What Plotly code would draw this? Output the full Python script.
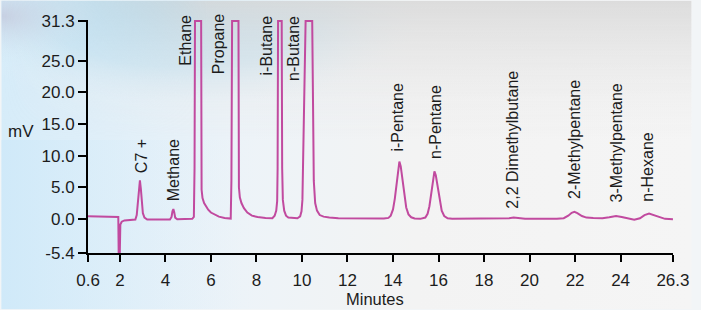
import base64
import plotly.graph_objects as go

# ---- data ----
time_min = [
    0.6, 1.90, 1.93, 1.95, 1.99, 2.02, 2.08, 2.2, 2.4, 2.6,
    2.68, 2.74, 2.79, 2.84, 2.88, 2.92, 2.96, 3.01, 3.08, 3.2,
    4.2, 4.27, 4.31, 4.35, 4.39, 4.43, 4.52,
    5.18, 5.25, 5.28, 5.30, 5.57, 5.59, 5.63, 5.70, 5.80, 5.88, 6.0, 6.17, 6.35, 6.6, 6.82,
    6.87, 6.90, 6.93, 7.21, 7.23, 7.27, 7.34, 7.45, 7.6, 7.8, 8.05, 8.4, 8.7,
    8.80, 8.87, 8.91, 8.93, 8.95, 9.11, 9.13, 9.16, 9.22, 9.30, 9.40, 9.6,
    9.80, 9.92, 9.98, 10.02, 10.06, 10.12, 10.16, 10.45, 10.48, 10.52, 10.58, 10.66, 10.78, 10.95, 11.2, 11.6,
    13.6, 13.8, 13.9, 14.0, 14.08, 14.15, 14.22, 14.28, 14.34, 14.42, 14.5, 14.58, 14.68, 14.8, 14.95, 15.2,
    15.42, 15.52, 15.6, 15.68, 15.75, 15.82, 15.88, 15.96, 16.05, 16.14, 16.25, 16.4, 16.6,
    18.8, 19.1, 19.3, 19.5, 19.8,
    21.2, 21.5, 21.7, 21.85, 21.97, 22.1, 22.3, 22.5, 22.8, 23.2, 23.5, 23.8, 24.05, 24.35, 24.6,
    24.85, 25.05, 25.25, 25.45, 25.7, 25.95, 26.3,
]
signal_mv = [
    0.4, 0.4, 0.3, -6.6, -6.6, -0.9, -0.45, -0.25, -0.15, -0.15,
    -0.1, 0.6, 2.3, 4.9, 6.1, 4.8, 2.4, 0.9, 0.2, -0.1,
    -0.1, 0.3, 1.2, 1.55, 1.0, 0.2, -0.05,
    0.0, 0.3, 8.0, 31.3, 31.3, 4.6, 3.3, 2.5, 1.9, 1.45, 1.0, 0.65, 0.35, 0.15, 0.05,
    0.05, 6.0, 31.3, 31.3, 5.0, 3.4, 2.5, 1.7, 1.0, 0.5, 0.3, 0.15, 0.1,
    0.5, 1.3, 2.8, 8.0, 31.3, 31.3, 8.0, 3.0, 1.3, 0.5, 0.2, 0.1,
    0.1, 0.4, 1.2, 3.0, 10.0, 25.0, 31.3, 31.3, 20.0, 6.0, 2.5, 1.3, 0.6, 0.35, 0.2, 0.1,
    0.05, 0.15, 0.5, 1.5, 3.2, 5.5, 8.0, 9.05, 8.3, 6.0, 3.5, 1.8, 0.7, 0.25, 0.05, 0.0,
    0.2, 0.8, 2.0, 4.2, 6.4, 7.5, 6.9, 5.0, 2.8, 1.3, 0.45, 0.1, 0.0,
    0.0, 0.1, 0.2, 0.1, 0.0,
    0.0, 0.1, 0.5, 0.95, 1.1, 0.9, 0.45, 0.2, 0.12, 0.1, 0.25, 0.45, 0.3, 0.0, -0.15,
    0.1, 0.6, 0.85, 0.6, 0.2, 0.0, -0.05,
]

peak_names = ["C7 +", "Methane", "Ethane", "Propane", "i-Butane", "n-Butane",
              "i-Pentane", "n-Pentane", "2,2 Dimethylbutane", "2-Methylpentane",
              "3-Methylpentane", "n-Hexane"]
label_x = [2.98, 4.36, 4.88, 6.33, 8.43, 9.66, 14.22, 15.84, 19.27, 21.98, 23.81, 25.18]
label_y = [7.1, 2.55, 24.05, 22.7, 22.55, 21.6, 10.4, 9.3, 1.45, 3.0, 2.4, 2.55]

x_ticks = [0.6, 2, 4, 6, 8, 10, 12, 14, 16, 18, 20, 22, 24, 26.3]
x_tick_text = ["0.6", "2", "4", "6", "8", "10", "12", "14", "16", "18", "20", "22", "24", "26.3"]
y_ticks = [-5.4, 0.0, 5.0, 10.0, 15.0, 20.0, 25.0, 31.3]
y_tick_text = ["-5.4", "0.0", "5.0", "10.0", "15.0", "20.0", "25.0", "31.3"]

FONT = "Liberation Sans, Arial, sans-serif"
TEXT_COLOR = "#1c1c1c"
LINE_COLOR = "#c14a9f"

W, H = 701, 310
ML, MR, MT, MB = 88, 19, 19.5, 56.5

# ---- background (soft blue / grey gradient) ----
svg = f"""<svg xmlns='http://www.w3.org/2000/svg' width='{W}' height='{H}' viewBox='0 0 {W} {H}' preserveAspectRatio='none'>
<defs>
<linearGradient id='base' x1='0' y1='0' x2='1' y2='0'>
<stop offset='0' stop-color='#d6ecf9'/>
<stop offset='0.35' stop-color='#edf3f8'/>
<stop offset='0.6' stop-color='#f3f3f3'/>
<stop offset='1' stop-color='#f5f5f5'/>
</linearGradient>
<radialGradient id='blue' cx='0.26' cy='0.0' r='0.36'>
<stop offset='0' stop-color='#9ad7f6' stop-opacity='1'/>
<stop offset='0.6' stop-color='#b6e1f7' stop-opacity='0.6'/>
<stop offset='1' stop-color='#e8f2f8' stop-opacity='0'/>
</radialGradient>
<radialGradient id='corner' cx='0.0' cy='0.05' r='0.14'>
<stop offset='0' stop-color='#c6cde0' stop-opacity='0.9'/>
<stop offset='1' stop-color='#d6e6f2' stop-opacity='0'/>
</radialGradient>
<linearGradient id='grey' x1='0' y1='0' x2='0' y2='1'>
<stop offset='0' stop-color='#d9d9d9' stop-opacity='0.9'/>
<stop offset='0.45' stop-color='#ececec' stop-opacity='0'/>
</linearGradient>
<linearGradient id='greyx' x1='0' y1='0' x2='1' y2='0'>
<stop offset='0' stop-color='white' stop-opacity='0'/>
<stop offset='0.3' stop-color='white' stop-opacity='1'/>
<stop offset='1' stop-color='white' stop-opacity='1'/>
</linearGradient>
<mask id='m'><rect x='0' y='0' width='{W}' height='{H}' fill='url(#greyx)'/></mask>
<linearGradient id='bl' x1='0' y1='0' x2='1' y2='0'>
<stop offset='0' stop-color='#cfe9f9' stop-opacity='0.9'/>
<stop offset='1' stop-color='#e6f2fa' stop-opacity='0'/>
</linearGradient>
</defs>
<rect x='0' y='0' width='{W}' height='{H}' fill='url(#base)'/>
<rect x='0' y='0' width='{W}' height='{H}' fill='url(#blue)'/>
<rect x='0' y='0' width='{W}' height='{H}' fill='url(#corner)'/>
<rect x='0' y='0' width='{W}' height='{H}' fill='url(#grey)' mask='url(#m)'/>
<rect x='0' y='140' width='260' height='170' fill='url(#bl)'/>
</svg>"""
bg_src = "data:image/svg+xml;base64," + base64.b64encode(svg.encode()).decode()

pw = W - ML - MR
ph = H - MT - MB

fig = go.Figure()
fig.add_trace(go.Scatter(
    x=time_min, y=signal_mv, mode="lines",
    line=dict(color=LINE_COLOR, width=2),
    cliponaxis=False, hoverinfo="skip", showlegend=False,
))

for name, lx, ly in zip(peak_names, label_x, label_y):
    fig.add_annotation(
        x=lx, y=ly, xref="x", yref="y", text=name, showarrow=False,
        textangle=-90, xanchor="center", yanchor="bottom",
        font=dict(family=FONT, size=16, color=TEXT_COLOR), borderpad=0,
    )

fig.add_annotation(
    x=(20 - ML) / pw, y=(H - MB - 131) / ph, xref="paper", yref="paper",
    text="mV", showarrow=False, xanchor="center", yanchor="middle",
    font=dict(family=FONT, size=17, color=TEXT_COLOR),
)
fig.add_annotation(
    x=(379.5 - ML) / pw, y=(H - MB - 300) / ph, xref="paper", yref="paper",
    text="Minutes", showarrow=False, xanchor="center", yanchor="middle",
    font=dict(family=FONT, size=16.5, color=TEXT_COLOR),
)

fig.add_layout_image(dict(
    source=bg_src, xref="paper", yref="paper",
    x=-ML / pw, y=1 + MT / ph, sizex=W / pw, sizey=H / ph,
    xanchor="left", yanchor="top", sizing="stretch", layer="below",
))

axis_font = dict(family=FONT, size=17, color=TEXT_COLOR)
fig.update_layout(
    width=W, height=H,
    margin=dict(l=ML, r=MR, t=MT, b=MB, pad=0),
    paper_bgcolor="#f2f5f7", plot_bgcolor="rgba(0,0,0,0)",
    xaxis=dict(
        range=[0.599, 26.302], tickvals=x_ticks, ticktext=x_tick_text,
        showline=True, linecolor="black", linewidth=2,
        ticks="outside", ticklen=7, tickwidth=2, tickcolor="black",
        showgrid=False, zeroline=False, tickfont=axis_font,
        ticklabelstandoff=4,
    ),
    yaxis=dict(
        range=[-5.4, 31.45], tickvals=y_ticks, ticktext=y_tick_text,
        showline=True, linecolor="black", linewidth=2,
        ticks="outside", ticklen=8, tickwidth=2, tickcolor="black",
        showgrid=False, zeroline=False, tickfont=axis_font,
    ),
)

fig.write_html(
    "out.html",
    config={"displayModeBar": False},
    post_script="document.body.style.margin='0';document.body.style.overflow='hidden';",
)
